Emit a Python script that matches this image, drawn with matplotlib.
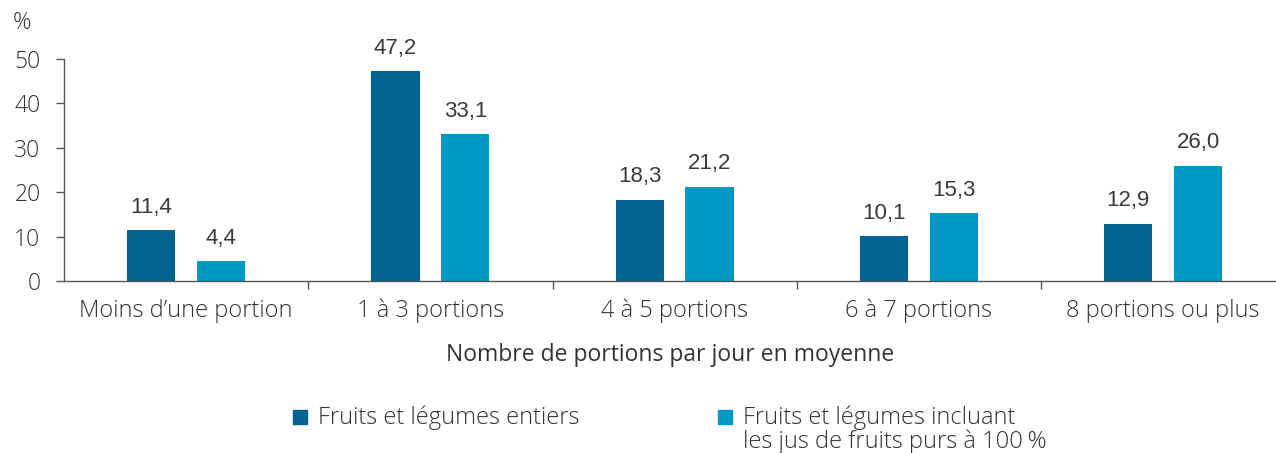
import matplotlib
matplotlib.use("Agg")
import matplotlib.pyplot as plt
from matplotlib.patches import Rectangle
import numpy as np

categories = ["Moins d\u2019une portion", "1 à 3 portions", "4 à 5 portions",
              "6 à 7 portions", "8 portions ou plus"]
entiers = [11.4, 47.2, 18.3, 10.1, 12.9]
avec_jus = [4.4, 33.1, 21.2, 15.3, 26.0]
labels_entiers = ["11,4", "47,2", "18,3", "10,1", "12,9"]
labels_jus = ["4,4", "33,1", "21,2", "15,3", "26,0"]
yticks = [0, 10, 20, 30, 40, 50]
series_names = ["Fruits et légumes entiers",
                "Fruits et légumes incluant\nles jus de fruits purs à 100\u2009%"]

C_DARK = "#006391"
C_LIGHT = "#0098C4"
TXT = "#333333"

plt.rcParams["font.family"] = ["Open Sans", "DejaVu Sans"]
plt.rcParams["font.weight"] = "light"

W, H = 1276, 453
fig = plt.figure(figsize=(W / 100, H / 100), dpi=100)
ax = fig.add_axes([64 / W, (H - 281) / H, (W - 64) / W, 222 / H])

x = np.arange(len(categories))
bw = 0.197
off = 0.143
ax.bar(x - off, entiers, bw, color=C_DARK)
ax.bar(x + off, avec_jus, bw, color=C_LIGHT)

lab_font = dict(family=["Liberation Sans Narrow", "Liberation Sans", "DejaVu Sans"],
                fontsize=16, color="#3a3a3a", fontweight="normal")
for xi, v, t in zip(x - off, entiers, labels_entiers):
    ax.annotate(t, (xi, v), xytext=(0, 9), textcoords="offset points",
                ha="center", va="bottom", **lab_font)
for xi, v, t in zip(x + off, avec_jus, labels_jus):
    ax.annotate(t, (xi, v), xytext=(0, 9), textcoords="offset points",
                ha="center", va="bottom", **lab_font)

ax.set_xlim(-0.5, (W - 64) / 244.25 - 0.5)
ax.set_ylim(0, 50)
ax.set_yticks(yticks)
ax.set_yticklabels([str(t) for t in yticks], fontsize=16.5, color=TXT)

ax.set_xticks(np.arange(len(categories) - 1) + 0.5)
ax.set_xticklabels([])
ax.set_xticks(x, minor=True)
ax.set_xticklabels(categories, minor=True, fontsize=17, color=TXT)
ax.tick_params(axis="x", which="minor", length=0, pad=13)
ax.tick_params(axis="x", which="major", length=6, width=1, color="#555555", direction="out")
ax.tick_params(axis="y", length=6, width=1, color="#555555", pad=11)

for s in ["top", "right"]:
    ax.spines[s].set_visible(False)
for s in ["left", "bottom"]:
    ax.spines[s].set_color("#555555")
    ax.spines[s].set_linewidth(1)

ax.set_xlabel("Nombre de portions par jour en moyenne", fontsize=16.5, color=TXT, labelpad=14)

fig.text(13 / W, 1 - 23 / H, "%", fontsize=16.5, color=TXT, ha="left", va="center")

# Legend (manual)
sq = 14
for px, col, name in [(293, C_DARK, series_names[0]), (718, C_LIGHT, series_names[1])]:
    fig.patches.append(Rectangle((px / W, 1 - 424 / H), sq / W, sq / H,
                                 transform=fig.transFigure, color=col))
    for i, line in enumerate(name.split("\n")):
        fig.text((px + 25) / W, 1 - (424 + 24 * i) / H, line, fontsize=17, color=TXT,
                 ha="left", va="baseline")

fig.savefig("out.png", dpi=100)
